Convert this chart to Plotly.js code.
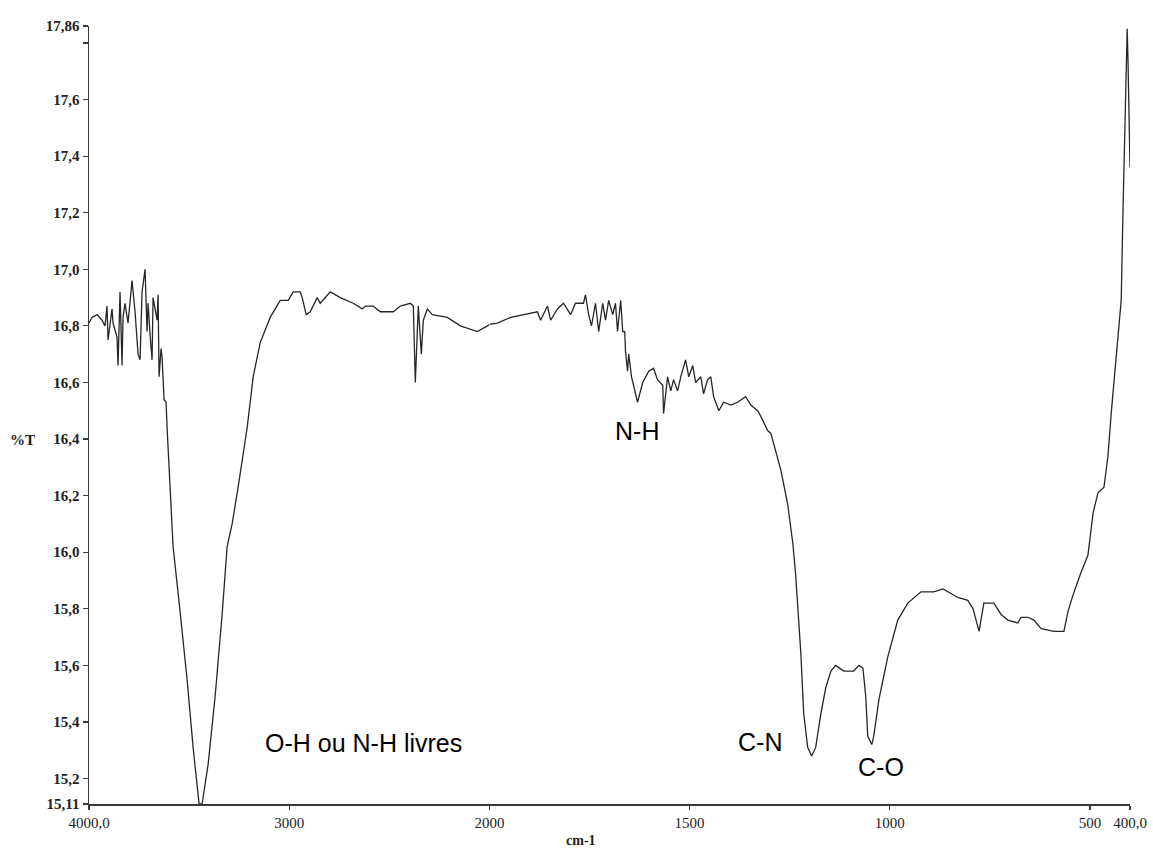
<!DOCTYPE html>
<html>
<head>
<meta charset="utf-8">
<script src="https://cdn.plot.ly/plotly-3.0.1.min.js"></script>
<style>
  html, body { margin: 0; padding: 0; background: #ffffff; }
  #chart { width: 1153px; height: 848px; }
</style>
</head>
<body>
<div id="chart"></div>
<script>
// IR spectrum: wavenumber (cm-1) vs transmittance (%T)
const wavenumber = [
  4000, 3985, 3960, 3935, 3920, 3910, 3905, 3885, 3880, 3860, 3855, 3845, 3835, 3830,
  3820, 3805, 3785, 3770, 3755, 3745, 3735, 3720, 3710, 3705, 3695, 3685, 3680, 3660,
  3655, 3650, 3640, 3635, 3625, 3615, 3610, 3600, 3580, 3545, 3510, 3480, 3450, 3435,
  3405, 3370, 3335, 3310, 3285, 3255, 3210, 3180, 3145, 3095, 3045, 3005, 2980, 2945,
  2935, 2915, 2895, 2860, 2845, 2795, 2745, 2680, 2635, 2620, 2580, 2545, 2480, 2445,
  2395, 2380, 2370, 2355, 2340, 2330, 2310, 2285, 2210, 2145, 2060, 2010, 2000,
  1980, 1947, 1915, 1880, 1872, 1855, 1847, 1830, 1815, 1797, 1785, 1765, 1760, 1752,
  1745, 1735, 1727, 1717, 1710, 1702, 1692, 1685, 1680, 1672, 1667, 1662, 1660, 1655,
  1652, 1645, 1630, 1617, 1602, 1590, 1580, 1567, 1565, 1555, 1547, 1540, 1530, 1522,
  1510, 1502, 1492, 1485, 1472, 1465, 1455, 1447, 1440, 1427, 1415, 1397, 1380, 1360,
  1347, 1330, 1322, 1305, 1297, 1272, 1255, 1242, 1235, 1227, 1222, 1215, 1205, 1195,
  1185, 1172, 1160, 1147, 1135, 1115, 1090, 1077, 1067, 1060, 1055, 1045, 1040, 1027,
  1005, 980, 955, 922, 890, 867, 855, 830, 805, 792, 777, 765, 740, 722,
  705, 680, 672, 655, 640, 622, 590, 565, 555, 542, 522, 505, 492, 480,
  465, 455, 447, 440, 422, 417, 412, 407, 405, 400
];
const transmittance = [
  16.81, 16.83, 16.84, 16.82, 16.80, 16.87, 16.75, 16.86, 16.81, 16.76, 16.66, 16.92, 16.66, 16.83,
  16.88, 16.81, 16.96, 16.85, 16.70, 16.68, 16.92, 17.00, 16.78, 16.88, 16.77, 16.68, 16.90, 16.82,
  16.91, 16.62, 16.72, 16.69, 16.54, 16.53, 16.44, 16.30, 16.02, 15.79, 15.55, 15.31, 15.11, 15.11,
  15.25, 15.49, 15.78, 16.02, 16.10, 16.23, 16.44, 16.62, 16.74, 16.83, 16.89, 16.89, 16.92, 16.92,
  16.90, 16.84, 16.85, 16.90, 16.88, 16.92, 16.90, 16.88, 16.86, 16.87, 16.87, 16.85, 16.85, 16.87,
  16.88, 16.87, 16.60, 16.87, 16.70, 16.82, 16.86, 16.84, 16.83, 16.80, 16.78, 16.80, 16.805,
  16.81, 16.83, 16.84, 16.85, 16.82, 16.87, 16.82, 16.86, 16.88, 16.84, 16.88, 16.88, 16.91, 16.84,
  16.80, 16.88, 16.78, 16.88, 16.82, 16.89, 16.84, 16.88, 16.78, 16.89, 16.78, 16.78, 16.71, 16.64,
  16.70, 16.62, 16.53, 16.60, 16.64, 16.65, 16.61, 16.59, 16.49, 16.62, 16.57, 16.61, 16.57, 16.62,
  16.68, 16.62, 16.66, 16.60, 16.62, 16.56, 16.61, 16.62, 16.55, 16.50, 16.53, 16.52, 16.53, 16.55,
  16.52, 16.50, 16.48, 16.43, 16.42, 16.29, 16.17, 16.03, 15.92, 15.76, 15.64, 15.43, 15.31, 15.28,
  15.31, 15.43, 15.52, 15.58, 15.60, 15.58, 15.58, 15.60, 15.59, 15.49, 15.35, 15.32, 15.35, 15.48,
  15.63, 15.76, 15.82, 15.86, 15.86, 15.87, 15.86, 15.84, 15.83, 15.80, 15.72, 15.82, 15.82, 15.78,
  15.76, 15.75, 15.77, 15.77, 15.76, 15.73, 15.72, 15.72, 15.79, 15.85, 15.93, 15.99, 16.14, 16.21,
  16.23, 16.34, 16.49, 16.61, 16.89, 17.24, 17.60, 17.85, 17.74, 17.36
];

// The wavenumber scale changes at 2000 cm-1: the 4000-2000 part is drawn at half scale
const scaleBreak = 2000;
const xTicksHigh = [4000, 3000, 2000];
const xLabelsHigh = ['4000,0', '3000', '2000'];
const xTicksLow = [1500, 1000, 500, 400];
const xLabelsLow = ['1500', '1000', '500', '400,0'];
const yTicks = [15.11, 15.2, 15.4, 15.6, 15.8, 16.0, 16.2, 16.4, 16.6, 16.8, 17.0, 17.2, 17.4, 17.6, 17.8, 17.86];
const yLabels = ['15,11', '15,2', '15,4', '15,6', '15,8', '16,0', '16,2', '16,4', '16,6', '16,8', '17,0', '17,2', '17,4', '17,6', '', '17,86'];

const bands = [
  { text: 'O-H ou N-H livres', px: 363, py: 743 },
  { text: 'N-H', px: 637, py: 431 },
  { text: 'C-N', px: 760, py: 742 },
  { text: 'C-O', px: 881, py: 767 }
];

const W = 1153, H = 848;
const M = { l: 89, r: 23, t: 26, b: 44 };
const plotW = W - M.l - M.r, plotH = H - M.t - M.b;
const split = 400 / 1040; // 2000 cm-1 at 0.2 px per unit vs 1600 cm-1 at 0.4 px per unit
const paperX = px => (px - M.l) / plotW;
const paperY = py => (H - M.b - py) / plotH;

const hiX = [], hiY = [], loX = [], loY = [];
wavenumber.forEach((w, i) => {
  if (w >= scaleBreak) { hiX.push(w); hiY.push(transmittance[i]); }
  if (w <= scaleBreak) { loX.push(w); loY.push(transmittance[i]); }
});

const lineStyle = { color: '#262626', width: 1.3 };
const traces = [
  { x: hiX, y: hiY, xaxis: 'x', yaxis: 'y', mode: 'lines', line: lineStyle, hoverinfo: 'skip' },
  { x: loX, y: loY, xaxis: 'x2', yaxis: 'y', mode: 'lines', line: lineStyle, hoverinfo: 'skip' }
];

const serif = 'Liberation Serif, Times New Roman, serif';
const axisCommon = {
  showgrid: false, zeroline: false, showline: true,
  linecolor: '#3a3a3a', linewidth: 1.5,
  ticks: 'outside', ticklen: 4, tickwidth: 1.2, tickcolor: '#3a3a3a',
  tickmode: 'array', anchor: 'y',
  tickfont: { family: serif, size: 15, color: '#222' }
};

const annotations = bands.map(b => ({
  text: b.text, xref: 'paper', yref: 'paper',
  x: paperX(b.px), y: paperY(b.py), xanchor: 'center', yanchor: 'middle',
  showarrow: false, font: { family: 'Liberation Sans, Arial, sans-serif', size: 25, color: '#000' }
}));
annotations.push({
  text: '%T', xref: 'paper', yref: 'paper', x: paperX(22), y: paperY(440),
  xanchor: 'center', yanchor: 'middle', showarrow: false,
  font: { family: serif, size: 15, color: '#222', weight: 'bold' }
});
annotations.push({
  text: 'cm-1', xref: 'paper', yref: 'paper', x: paperX(581), y: paperY(840),
  xanchor: 'center', yanchor: 'middle', showarrow: false,
  font: { family: serif, size: 14, color: '#222', weight: 'bold' }
});

const layout = {
  width: W, height: H,
  margin: M,
  paper_bgcolor: '#ffffff', plot_bgcolor: '#ffffff',
  showlegend: false,
  xaxis: Object.assign({}, axisCommon, {
    domain: [0, split], range: [4000, scaleBreak],
    tickvals: xTicksHigh, ticktext: xLabelsHigh
  }),
  xaxis2: Object.assign({}, axisCommon, {
    domain: [split, 1], range: [scaleBreak, 400],
    tickvals: xTicksLow, ticktext: xLabelsLow
  }),
  yaxis: Object.assign({}, axisCommon, {
    anchor: 'x', range: [15.11, 17.86], ticklen: 5,
    tickvals: yTicks, ticktext: yLabels,
    tickfont: { family: serif, size: 15, color: '#222', weight: 'bold' }
  }),
  annotations: annotations
};

Plotly.newPlot('chart', traces, layout, { staticPlot: true, displayModeBar: false });
</script>
</body>
</html>
